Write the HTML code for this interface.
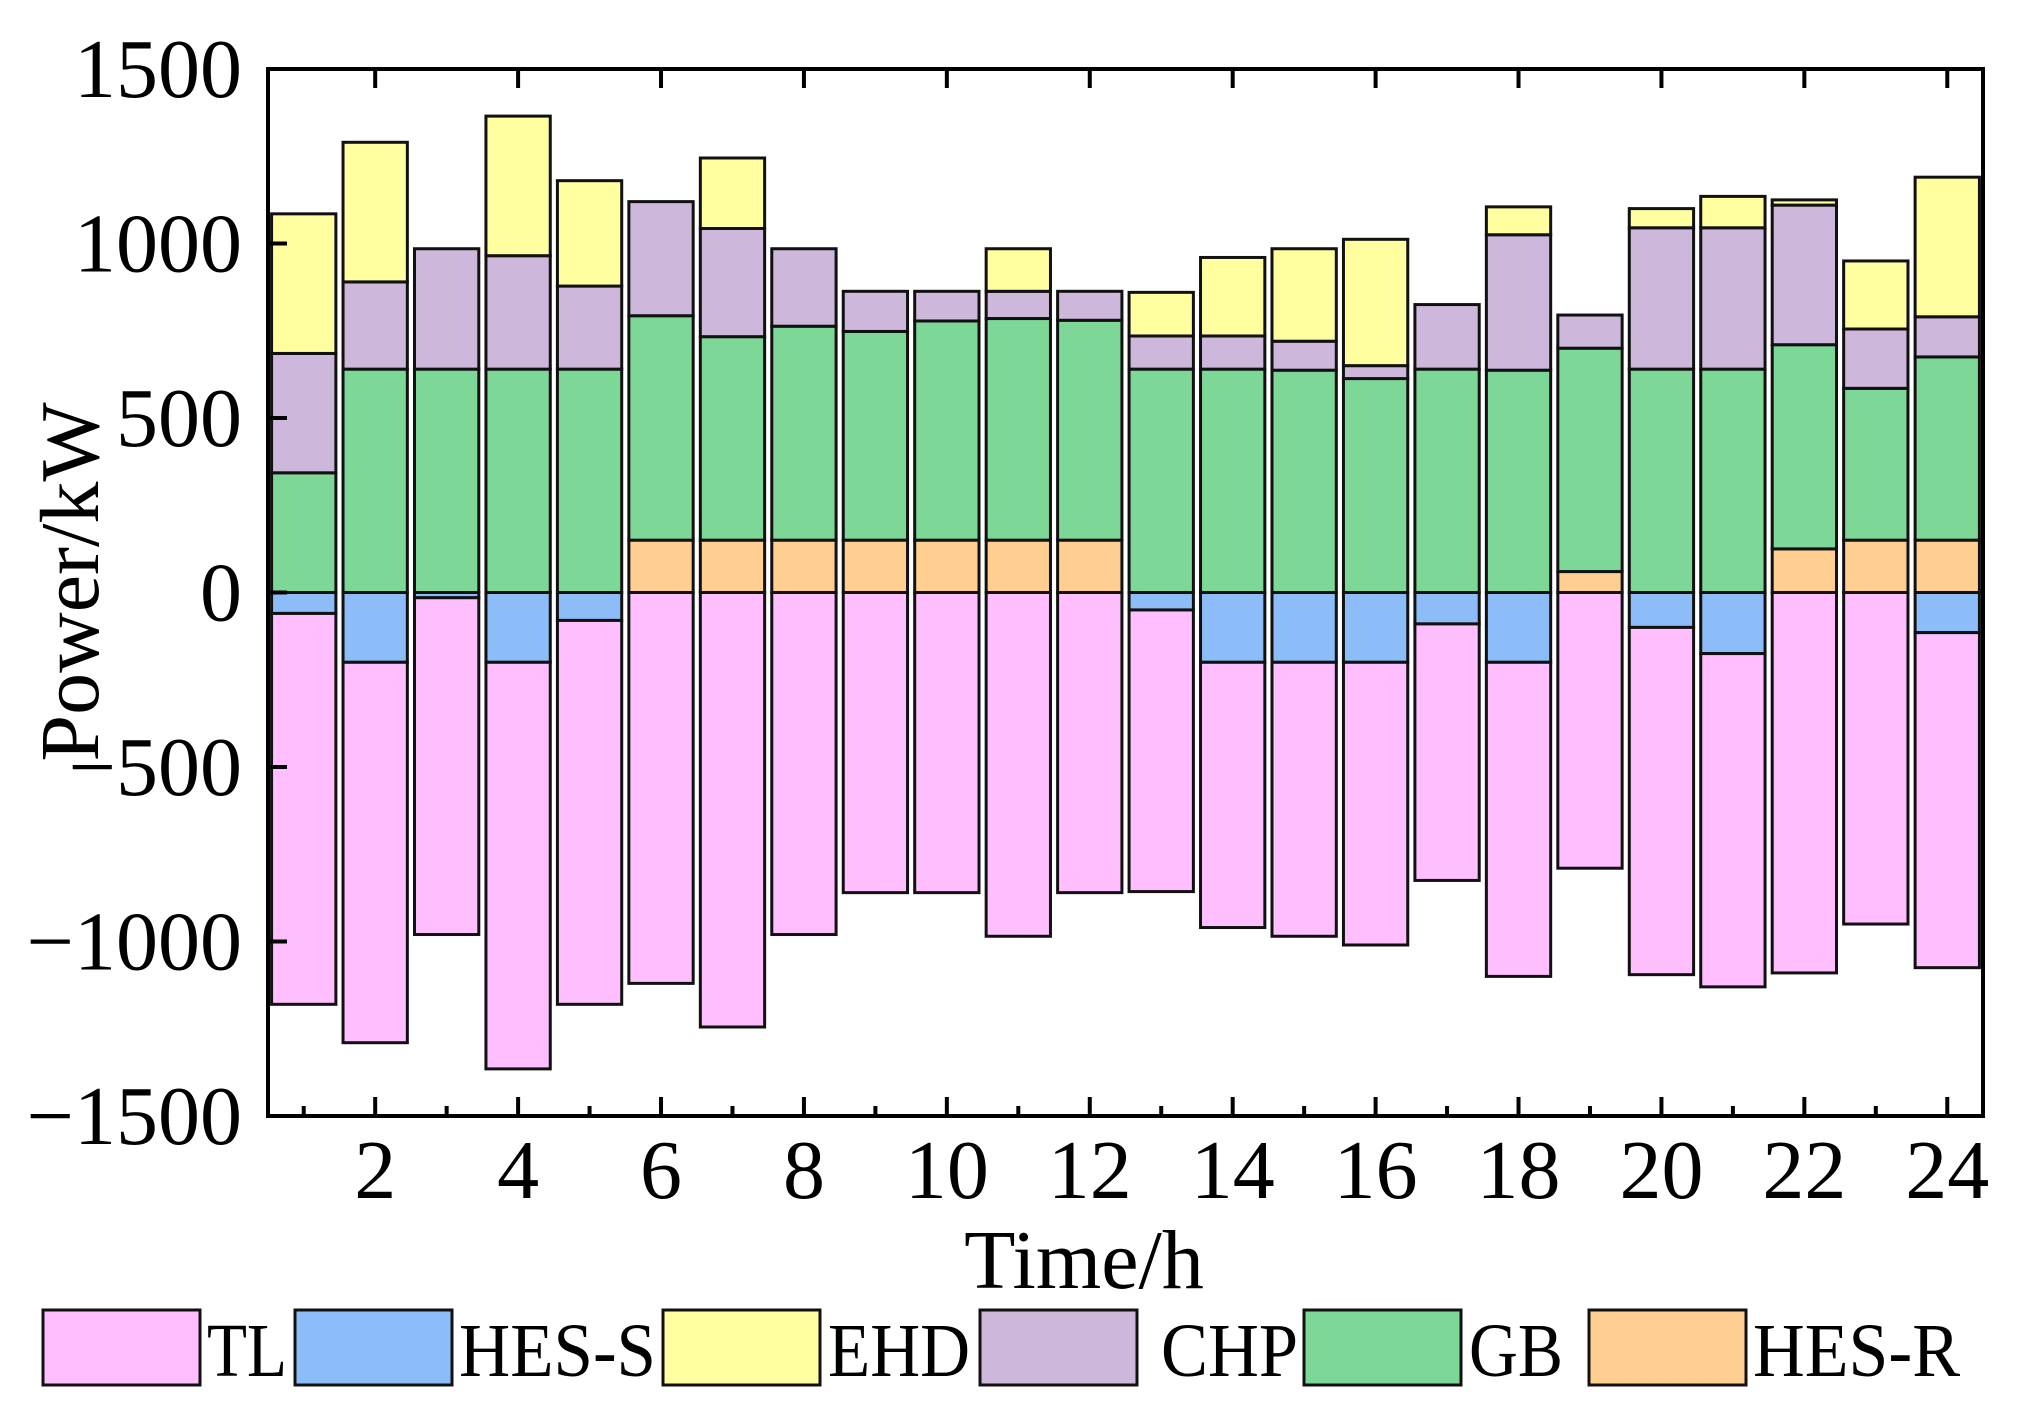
<!DOCTYPE html>
<html><head><meta charset="utf-8"><style>
html,body{margin:0;padding:0;background:#fff}
svg{display:block;font-family:"Liberation Serif",serif}
</style></head><body>
<svg id="chart" width="2019" height="1411" viewBox="0 0 2019 1411" xmlns="http://www.w3.org/2000/svg">
<g id="bars"></g>
<g id="axes"></g>
<text x="1084" y="1288" font-size="84" text-anchor="middle">Time/h</text>
<text x="0" y="0" font-size="84" text-anchor="middle" transform="translate(98,582) rotate(-90)">Power/kW</text>
<g id="legend"></g>
</svg>
<script>
const hours=[1,2,3,4,5,6,7,8,9,10,11,12,13,14,15,16,17,18,19,20,21,22,23,24];
const TL=[1120,1090,965,1165,1100,1120,1245,980,860,860,985,860,807,760,785,810,735,900,790,995,955,1090,950,960];
const HESS=[60,200,15,200,80,0,0,0,0,0,0,0,50,200,200,200,90,200,0,100,175,0,0,115];
const HESR=[0,0,0,0,0,150,150,150,150,150,150,150,0,0,0,0,0,0,60,0,0,125,150,150];
const GB=[343,640,640,640,640,643,583,613,598,628,635,630,640,640,637,613,640,637,640,640,640,585,435,525];
const CHP=[342,250,345,325,238,327,310,222,115,85,78,83,95,95,83,37,185,388,95,405,405,400,170,115];
const EHD=[400,400,0,400,302,0,202,0,0,0,122,0,125,225,265,362,0,80,0,55,90,15,195,400];
const yTicks=[1500,1000,500,0,-500,-1000,-1500];
const xTicks=[2,4,6,8,10,12,14,16,18,20,22,24];
const legendNames=["TL","HES-S","EHD","CHP","GB","HES-R"];

const NS="http://www.w3.org/2000/svg";
const L=268,R=1983,T=69,B=1116;
const xs=h=>L+(h-0.5)*(R-L)/24;
const ys=v=>T+(1500-v)*(B-T)/3000;
const col={TL:"#FFBFFF","HES-S":"#8DBDF8",EHD:"#FFFFA0",CHP:"#CDB7DA",GB:"#7DD797","HES-R":"#FFCF92"};
function mk(tag,attrs,parent){const e=document.createElementNS(NS,tag);for(const k in attrs)e.setAttribute(k,attrs[k]);parent.appendChild(e);return e;}
const bars=document.getElementById('bars');
const bw=0.9*(R-L)/24;
function bar(h,v0,v1,name){
  if(Math.abs(v1-v0)<0.5)return;
  const y0=ys(Math.max(v0,v1)),y1=ys(Math.min(v0,v1));
  const r=mk('rect',{x:xs(h)-bw/2,y:y0,width:bw,height:y1-y0,fill:col[name],stroke:"#111","stroke-width":3},bars);
  
  
}
hours.forEach((h,i)=>{
  let p=0;
  [["HES-R",HESR],["GB",GB],["CHP",CHP],["EHD",EHD]].forEach(([n,a])=>{bar(h,p,p+a[i],n);p+=a[i];});
  let q=0;
  [["HES-S",HESS],["TL",TL]].forEach(([n,a])=>{bar(h,q,q-a[i],n);q-=a[i];});
});
const ax=document.getElementById('axes');
const frame=mk('rect',{x:L,y:T,width:R-L,height:B-T,fill:"none",stroke:"#000","stroke-width":4},ax);


for(let h=1;h<=24;h++){
  const major=h%2===0;const len=major?19:10;
  mk('line',{x1:xs(h),x2:xs(h),y1:B,y2:B-len,stroke:"#000","stroke-width":4},ax);
  if(major)mk('line',{x1:xs(h),x2:xs(h),y1:T,y2:T+len,stroke:"#000","stroke-width":4},ax);
}
xTicks.forEach(t=>{
  const e=mk('text',{x:xs(t),y:1198,"font-size":84,"text-anchor":"middle"},ax);
  e.textContent=t;
  
  
});
yTicks.forEach(t=>{
  if(t>-1500&&t<1500)mk('line',{x1:L,x2:L+19,y1:ys(t),y2:ys(t),stroke:"#000","stroke-width":4},ax);
  const e=mk('text',{x:242,y:ys(t)+28,"font-size":84,"text-anchor":"end"},ax);
  e.textContent=(t<0?"\u2212":"")+Math.abs(t);
  
  
});
const lg=document.getElementById('legend');
const sw=[43,295,663,980,1304,1589],tx=[207,459,828,1161,1469,1753],tw=[80,197,142,137,94,207];
legendNames.forEach((n,i)=>{
  const g=mk('g',{},lg);
  
  
  mk('rect',{x:sw[i],y:1310,width:157,height:75,fill:col[n],stroke:"#111","stroke-width":3},g);
  const t=mk('text',{x:tx[i],y:1376,"font-size":76,textLength:tw[i],lengthAdjust:"spacingAndGlyphs"},g);
  t.textContent=n;
});
</script>
</body></html>
